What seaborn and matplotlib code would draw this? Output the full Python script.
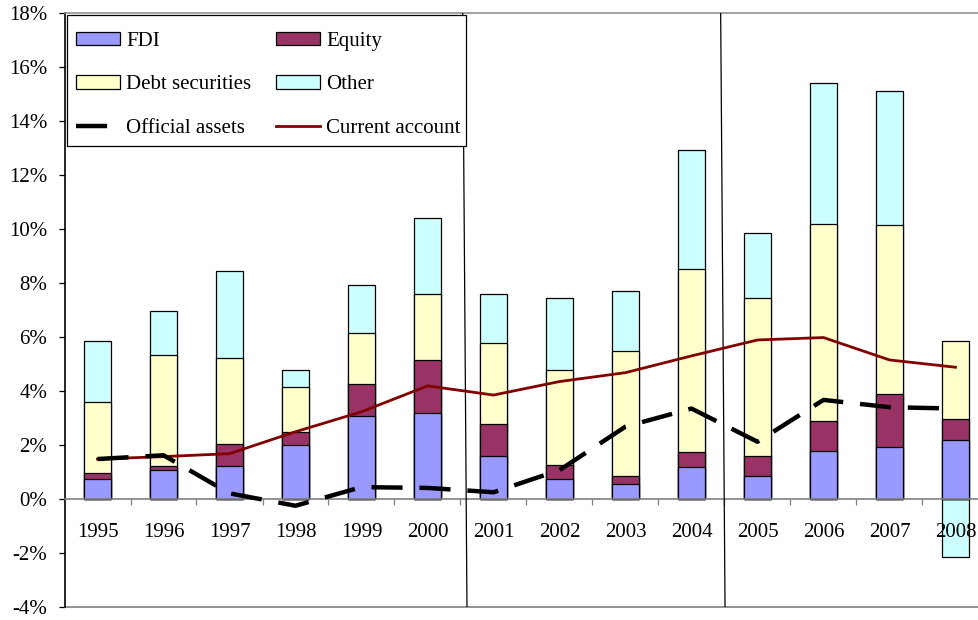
import numpy as np
import pandas as pd
import matplotlib
matplotlib.use("Agg")
import matplotlib.pyplot as plt
import seaborn as sns
from matplotlib.patches import Patch, Rectangle
from matplotlib.lines import Line2D

years = ['1995', '1996', '1997', '1998', '1999', '2000', '2001',
         '2002', '2003', '2004', '2005', '2006', '2007', '2008']
fdi = [0.73, 1.07, 1.23, 2.01, 3.07, 3.20, 1.59, 0.75, 0.54, 1.20, 0.86, 1.79, 1.94, 2.17]
equity = [0.22, 0.15, 0.81, 0.48, 1.19, 1.95, 1.19, 0.52, 0.32, 0.53, 0.72, 1.10, 1.95, 0.78]
debt_securities = [2.65, 4.11, 3.19, 1.65, 1.88, 2.44, 2.99, 3.52, 4.63, 6.79, 5.88, 7.31, 6.26, 2.89]
other = [2.25, 1.64, 3.21, 0.63, 1.77, 2.83, 1.82, 2.67, 2.20, 4.39, 2.39, 5.20, 4.96, -2.15]
official_assets = [1.48, 1.62, 0.21, -0.25, 0.44, 0.41, 0.25, 1.07, 2.68, 3.35, 2.12, 3.67, 3.40, 3.35]
current_account = [1.48, 1.57, 1.68, 2.49, 3.23, 4.19, 3.85, 4.35, 4.68, 5.30, 5.89, 5.98, 5.15, 4.88]
ytick_values = list(range(-4, 19, 2))
ytick_labels = [f"{v}%" for v in ytick_values]

plt.rcParams['font.family'] = ['Liberation Serif', 'DejaVu Serif']

W, H = 979, 620
fig = plt.figure(figsize=(W / 100, H / 100), dpi=100)
ax = fig.add_axes([64.5 / W, 13 / H, 924 / W, 594 / H])

f = np.array(fdi)
e = np.array(equity)
d = np.array(debt_securities)
o = np.array(other)
c1 = f
c2 = f + e
c3 = c2 + d
c4 = np.where(o >= 0, c3 + o, o)
df = pd.DataFrame({'year': years, 'other_top': c4, 'debt_top': c3,
                   'equity_top': c2, 'fdi_top': c1})

colors = {'FDI': '#9999FF', 'Equity': '#993366',
          'Debt securities': '#FFFFCC', 'Other': '#CCFFFF'}
for col, name in [('other_top', 'Other'), ('debt_top', 'Debt securities'),
                  ('equity_top', 'Equity'), ('fdi_top', 'FDI')]:
    sns.barplot(data=df, x='year', y=col, color=colors[name], saturation=1,
                width=0.41, edgecolor='black', linewidth=0.9, errorbar=None, ax=ax)

x = np.arange(len(years))
sns.lineplot(x=x, y=current_account, color='#800000', linewidth=2.0, ax=ax, zorder=4)
sns.lineplot(x=x, y=official_assets, color='black', linewidth=3.2, ax=ax, zorder=4)
ax.lines[-1].set_dashes((7, 3.8))

# separators
ax.plot([5.533, 5.598], [18, -4], color='black', lw=0.9, zorder=3)
ax.plot([9.442, 9.508], [18, -4], color='black', lw=0.9, zorder=3)

ax.set_xlim(-0.5, 13.5)
ax.set_ylim(-4, 18)
ax.set_yticks(ytick_values)
ax.set_yticklabels(ytick_labels)
ax.set_xticks(x)
ax.set_xticklabels(years)
ax.set_xticks(np.arange(0.5, 13, 1), minor=True)
ax.set_xlabel('')
ax.set_ylabel('')
ax.tick_params(axis='y', which='major', direction='out', length=4.3, width=0.9,
               pad=8, labelsize=15, colors='black', left=True)
ax.tick_params(axis='x', which='major', length=0, pad=17, labelsize=15, colors='black')
ax.tick_params(axis='x', which='minor', length=4.3, width=0.9, direction='out',
               color='#808080', bottom=True)

ax.spines['right'].set_visible(False)
ax.spines['top'].set_color('#909090')
ax.spines['top'].set_linewidth(1.2)
ax.spines['left'].set_color('black')
ax.spines['left'].set_linewidth(1.2)
ax.spines['bottom'].set_position(('data', 0))
ax.spines['bottom'].set_color('#808080')
ax.spines['bottom'].set_linewidth(1.2)
ax.axhline(-4, color='#909090', lw=1.4, clip_on=False)

# legend frame
frame = Rectangle((67 / W, 1 - 146 / H), (466 - 67) / W, (146 - 15) / H,
                  transform=fig.transFigure, facecolor='white', edgecolor='black',
                  linewidth=0.9, zorder=5)
ax.add_patch(frame)

handles = [
    Patch(facecolor=colors['FDI'], edgecolor='black', linewidth=0.9),
    Patch(facecolor=colors['Debt securities'], edgecolor='black', linewidth=0.9),
    Line2D([], [], color='black', linewidth=3.2, dashes=(7, 10)),
    Patch(facecolor=colors['Equity'], edgecolor='black', linewidth=0.9),
    Patch(facecolor=colors['Other'], edgecolor='black', linewidth=0.9),
    Line2D([], [], color='#800000', linewidth=2.0),
]
labels = ['FDI', 'Debt securities', 'Official assets', 'Equity', 'Other', 'Current account']
leg = ax.legend(handles, labels, ncol=2, loc='upper left',
                bbox_to_anchor=(76 / W, 1 - 32 / H), bbox_transform=fig.transFigure,
                borderaxespad=0, borderpad=0, fontsize=15, frameon=False,
                handlelength=2.1, handleheight=0.6,
                handletextpad=0.3, columnspacing=1.2, labelspacing=1.17)
leg.set_zorder(6)

fig.savefig('out.png', dpi=100)
